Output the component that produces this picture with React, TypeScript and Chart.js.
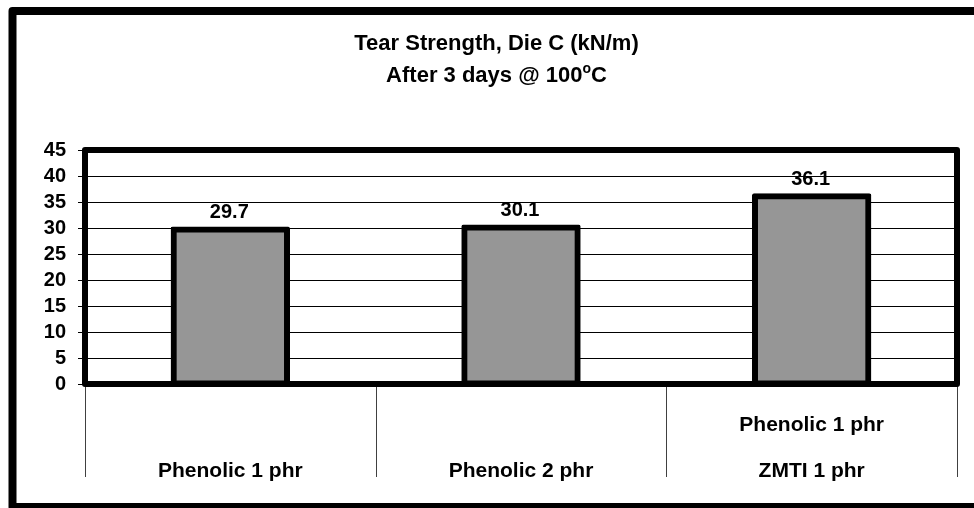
import React, { useEffect, useRef } from "react";
import { Chart, registerables } from "chart.js";

Chart.register(...registerables);

// ---- data ----
const categories: string[][] = [
  ["", "Phenolic 1 phr"],
  ["", "Phenolic 2 phr"],
  ["Phenolic 1 phr", "ZMTI 1 phr"],
];
const values: number[] = [29.7, 30.1, 36.1];
const valueLabels: string[] = ["29.7", "30.1", "36.1"];
const titleLine1 = "Tear Strength, Die C (kN/m)";
const titleLine2Main = "After 3 days @ 100";
const titleLine2Sup = "o";
const titleLine2End = "C";
const yMin = 0;
const yMax = 45;
const yStep = 5;

const FONT = "'Liberation Sans', Arial, Helvetica, sans-serif";

const decorPlugin = {
  id: "decor",
  beforeDraw(chart: any) {
    const { ctx, width, height } = chart;
    ctx.save();
    ctx.fillStyle = "#ffffff";
    ctx.fillRect(0, 0, width, height);
    ctx.restore();
  },
  afterDatasetsDraw(chart: any) {
    const { ctx, chartArea } = chart;
    const { left, right, top, bottom } = chartArea;
    const xScale = chart.scales.x;
    const yScale = chart.scales.y;
    ctx.save();

    // category separators below plot
    ctx.strokeStyle = "#404040";
    ctx.lineWidth = 1;
    const xs: number[] = [left];
    for (let i = 0; i < categories.length - 1; i++) {
      xs.push((xScale.getPixelForValue(i) + xScale.getPixelForValue(i + 1)) / 2);
    }
    xs.push(right);
    ctx.beginPath();
    xs.forEach((x) => {
      const px = Math.round(x) + 0.5;
      ctx.moveTo(px, bottom);
      ctx.lineTo(px, 477);
    });
    ctx.stroke();

    // plot area border
    ctx.strokeStyle = "#000000";
    ctx.lineWidth = 6;
    ctx.lineJoin = "round";
    ctx.strokeRect(left, top, right - left, bottom - top);

    // data labels
    ctx.fillStyle = "#000000";
    ctx.font = `bold 20px ${FONT}`;
    ctx.textAlign = "center";
    ctx.textBaseline = "alphabetic";
    values.forEach((v, i) => {
      const x = xScale.getPixelForValue(i) - 1;
      const y = yScale.getPixelForValue(v);
      ctx.fillText(valueLabels[i], x, y - 11.5);
    });

    // title
    const cx = 496.5;
    ctx.font = `bold 22px ${FONT}`;
    ctx.textAlign = "center";
    ctx.fillText(titleLine1, cx, 50);
    ctx.textAlign = "left";
    const mainFont = `bold 22px ${FONT}`;
    const supFont = `bold 14px ${FONT}`;
    ctx.font = mainFont;
    const w1 = ctx.measureText(titleLine2Main).width;
    const w3 = ctx.measureText(titleLine2End).width;
    ctx.font = supFont;
    const w2 = ctx.measureText(titleLine2Sup).width;
    const total = w1 + w2 + w3;
    const x0 = cx - total / 2;
    ctx.font = mainFont;
    ctx.fillText(titleLine2Main, x0, 82);
    ctx.font = supFont;
    ctx.fillText(titleLine2Sup, x0 + w1, 73);
    ctx.font = mainFont;
    ctx.fillText(titleLine2End, x0 + w1 + w2, 82);

    // outer frame
    ctx.strokeStyle = "#000000";
    ctx.lineWidth = 8;
    ctx.lineJoin = "round";
    ctx.strokeRect(12.5, 11, 974, 496);
    ctx.restore();
  },
};

export default function App() {
  const ref = useRef<HTMLCanvasElement | null>(null);

  useEffect(() => {
    document.body.style.margin = "0";
    if (!ref.current) return;
    const chart = new Chart(ref.current, {
      type: "bar",
      data: {
        labels: categories,
        datasets: [
          {
            data: values,
            backgroundColor: "#969696",
            borderColor: "#000000",
            borderWidth: 6,
            borderSkipped: false,
            borderRadius: 2,
            inflateAmount: 3,
            barPercentage: 0.39,
            categoryPercentage: 1,
          } as any,
        ],
      },
      options: {
        responsive: false,
        animation: false,
        devicePixelRatio: 1,
        layout: { padding: { left: 0, right: 17, top: 150, bottom: 0 } },
        plugins: {
          legend: { display: false },
          title: { display: false },
          tooltip: { enabled: false },
        },
        scales: {
          x: {
            type: "category",
            grid: { display: false },
            border: { display: false },
            ticks: {
              autoSkip: false,
              maxRotation: 0,
              minRotation: 0,
              padding: 10,
              color: "#000000",
              font: { family: FONT, size: 21, weight: "bold", lineHeight: 46 / 21 },
            },
            afterFit(scale: any) {
              scale.height = 124;
            },
          },
          y: {
            min: yMin,
            max: yMax,
            grid: {
              color: "#000000",
              lineWidth: 1,
              drawTicks: true,
              tickLength: 7,
              tickColor: "#000000",
            },
            border: { display: false },
            ticks: {
              stepSize: yStep,
              autoSkip: false,
              padding: 12,
              color: "#000000",
              font: { family: FONT, size: 20, weight: "bold", lineHeight: 1 },
            },
            afterFit(scale: any) {
              scale.width = 85;
            },
          },
        },
      },
      plugins: [decorPlugin],
    });
    return () => chart.destroy();
  }, []);

  return (
    <div style={{ position: "absolute", left: 0, top: 0, width: 974, height: 508 }}>
      <canvas ref={ref} width={974} height={508} style={{ display: "block" }} />
    </div>
  );
}
